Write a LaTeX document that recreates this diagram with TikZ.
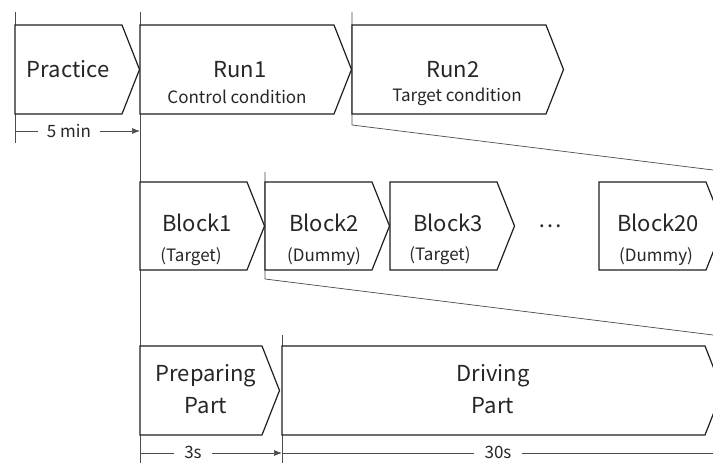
\documentclass[tikz,border=0pt]{standalone}
\usepackage{fontspec}
\setmainfont{Noto Sans CJK JP}
\usetikzlibrary{arrows.meta}
\newcommand\mypent[4]{\draw[box] (#1,#3) -- (#2,#3) -- ({#2+17.5},{(#3+#4)/2}) -- (#2,#4) -- (#1,#4) -- cycle;}
\begin{document}
\begin{tikzpicture}[x=1pt,y=-1pt,
  box/.style={draw=black!88,line width=1.2pt,fill=white,line join=miter},
  thinline/.style={draw=black!70,line width=0.7pt},
  big/.style={font=\fontsize{22}{26}\selectfont,text=black!85,inner sep=0pt},
  small/.style={font=\fontsize{17}{20}\selectfont,text=black!85,inner sep=0pt},
  arr/.style={thinline,-{Latex[length=8pt,width=6pt]}}]
\useasboundingbox (0,0) rectangle (713,463);
\clip (0,0) rectangle (713,463);
% guide lines
\coordinate (v0a) at (15,12);  \coordinate (v0b) at (15,143);
\coordinate (v1a) at (140,12); \coordinate (v1b) at (140,463);
\coordinate (v2a) at (352,12); \coordinate (v2b) at (352,125);
\coordinate (z1) at (713,170);
\coordinate (v3a) at (265,172); \coordinate (v3b) at (265,279);
\coordinate (z2) at (713,335);
\coordinate (v4a) at (282,335); \coordinate (v4b) at (282,463);
\draw[thinline] (v0a) -- (v0b);
\draw[thinline] (v1a) -- (v1b);
\draw[thinline] (v2a) -- (v2b) -- (z1);
\draw[thinline] (v3a) -- (v3b) -- (z2);
\draw[thinline] (v4a) -- (v4b);
% top row
\mypent{15}{122}{25}{114}
\mypent{140}{334}{25}{114}
\mypent{352}{546}{25}{114}
\node[big] (prac) at (68,69.5) {Practice};
\node[big] (run1) at (240,70) {Run1};
\node[small] (run1c) at (237,97) {Control condition};
\node[big] (run2) at (453,70) {Run2};
\node[small] (run2c) at (457,97) {Target condition};
% block row
\mypent{140}{247}{182}{270}
\mypent{265}{372}{182}{270}
\mypent{390}{497}{182}{270}
\mypent{599}{706}{182}{270}
\node[big] (b1) at (197,223) {Block1};
\node[small] (b1c) at (191,257) {(Target)};
\node[big] (b2) at (324,223) {Block2};
\node[small] (b2c) at (324,257) {(Dummy)};
\node[big] (b3) at (448,223) {Block3};
\node[small] (b3c) at (440,256) {(Target)};
\node[big] (dots) at (550,226) {…};
\node[big] (b20) at (658,223) {Block20};
\node[small] (b20c) at (656,257) {(Dummy)};
% part row
\mypent{140}{262}{346}{435}
\mypent{282}{705}{346}{435}
\node[big,anchor=base] (prep1) at (206,381) {Preparing};
\node[big,anchor=base] (prep2) at (206,413) {Part};
\node[big,anchor=base] (drv1) at (493,381) {Driving};
\node[big,anchor=base] (drv2) at (493,413) {Part};
% durations
\coordinate (d0) at (15,131);
\coordinate (d1) at (140,131);
\node[small] (t5) at (69,131) {5 min};
\draw[thinline] (d0) -- ([xshift=-9pt]t5.west);
\draw[arr] ([xshift=9pt]t5.east) -- (d1);
\coordinate (e0) at (140,453);
\coordinate (e1) at (282,453);
\coordinate (e2) at (713,453);
\node[small] (t3) at (193,452) {3s};
\draw[thinline] (e0) -- ([xshift=-10pt]t3.west |- e0);
\draw[arr] ([xshift=10pt]t3.east |- e0) -- (e1);
\node[small] (t30) at (498,452) {30s};
\draw[thinline] (e1) -- ([xshift=-10pt]t30.west |- e1);
\draw[thinline] ([xshift=10pt]t30.east |- e1) -- (e2);
\end{tikzpicture}
\end{document}
